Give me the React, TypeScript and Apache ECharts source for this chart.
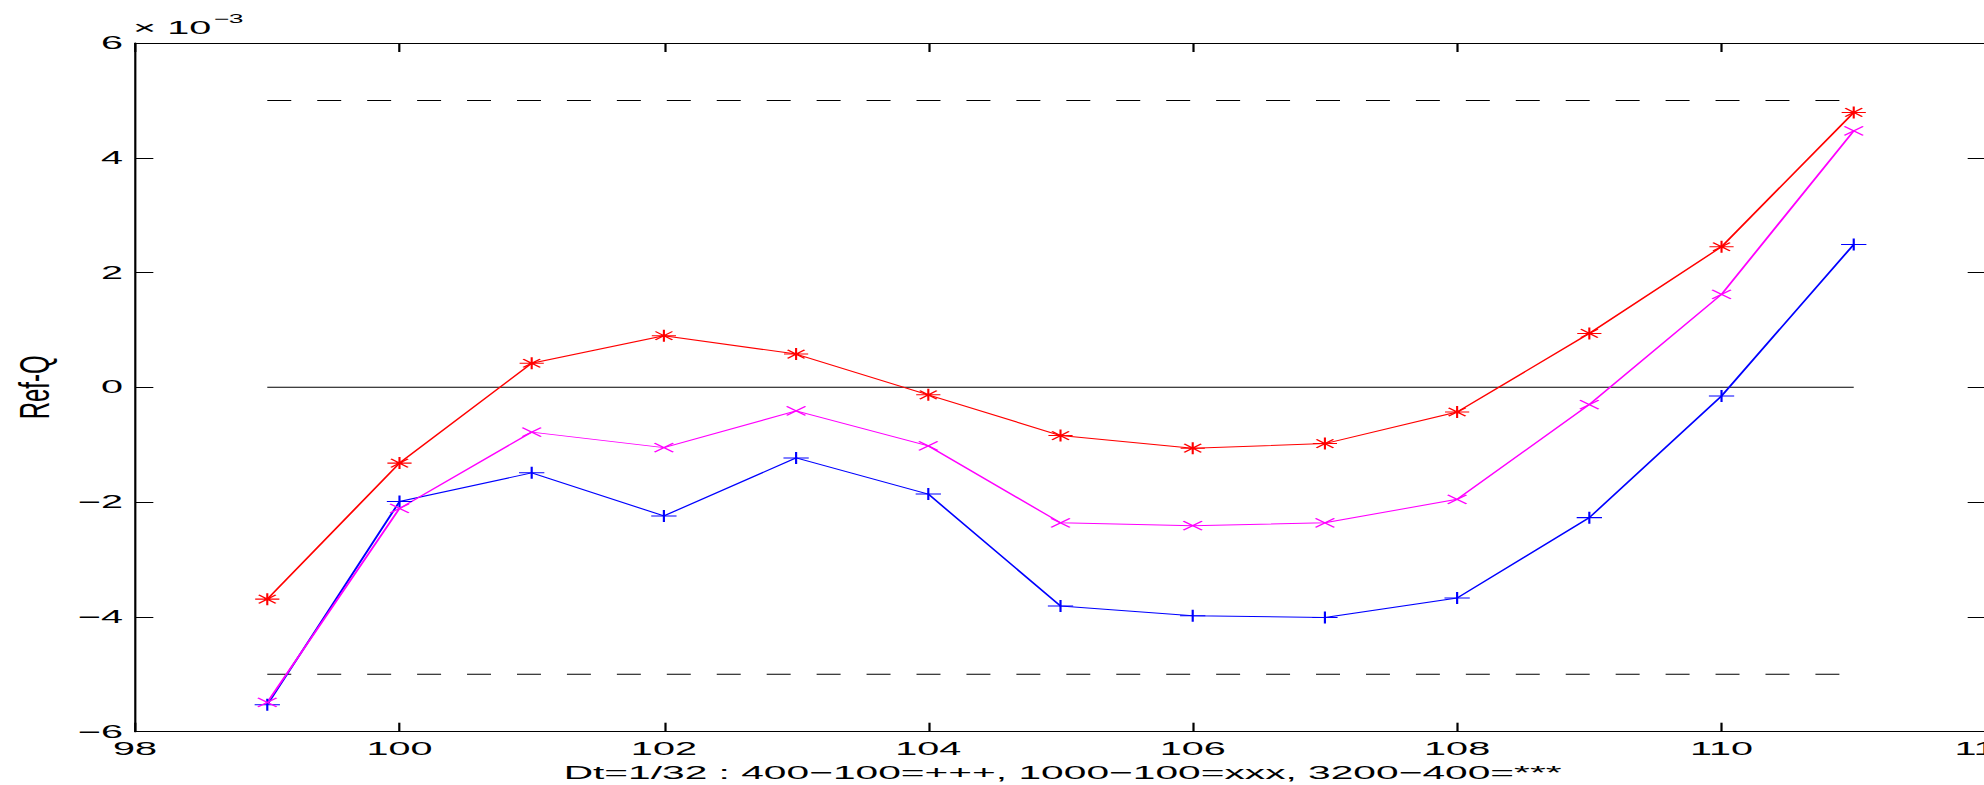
import React, { useEffect, useRef } from "react";
import * as echarts from "echarts";

// Grid steps on the horizontal axis
const STEPS = [99, 100, 101, 102, 103, 104, 105, 106, 107, 108, 109, 110, 111];

// Ref - Q differences, in units of 10^-3
const DIFF_400_100 = [-5.53, -1.99, -1.49, -2.24, -1.23, -1.86, -3.81, -3.98, -4.01, -3.67, -2.27, -0.15, 2.49];
const DIFF_1000_100 = [-5.49, -2.11, -0.78, -1.05, -0.41, -1.02, -2.36, -2.41, -2.36, -1.95, -0.3, 1.62, 4.47];
const DIFF_3200_400 = [-3.69, -1.32, 0.42, 0.9, 0.58, -0.13, -0.84, -1.06, -0.98, -0.43, 0.94, 2.45, 4.79];

// Tolerance band and the zero reference
const BAND_LEVELS = [-5, 5];
const ZERO_LEVEL = 0;

// Axis ranges and tick steps
const X_MIN = 98;
const X_MAX = 112;
const X_STEP = 2;
const Y_MIN = -6;
const Y_MAX = 6;
const Y_STEP = 2;
const Y_EXPONENT = "−3";

const X_TITLE = "Dt=1/32 : 400−100=+++, 1000−100=xxx, 3200−400=***";
const Y_TITLE = "Ref-Q";

// The figure is laid out narrow and stretched sideways, like the exported plot
const STRETCH = 2.2;
const VIEW_W = 1984;
const VIEW_H = 785;
const CHART_W = 910;

const FONT = '"Liberation Sans", Arial, Helvetica, sans-serif';

const PLUS = "path://M0,5L10,5M5,0L5,10";
const CROSS = "path://M0,0L10,10M10,0L0,10";
const STAR = "path://M0,5L10,5M5,0L5,10M1.5,1.5L8.5,8.5M8.5,1.5L1.5,8.5";

const pairs = (ys: number[]) => STEPS.map((x, i) => [x, ys[i]]);
const levelLine = (y: number) => [
  [STEPS[0], y],
  [STEPS[STEPS.length - 1], y],
];

function markerSeries(name: string, ys: number[], color: string, symbol: string, size: number[]) {
  return {
    name,
    type: "line",
    data: pairs(ys),
    symbol,
    symbolSize: size,
    showAllSymbol: true,
    lineStyle: { color, width: 1 },
    itemStyle: { color, borderColor: color, borderWidth: 1 },
    emphasis: { disabled: true },
    silent: true,
    z: 3,
  };
}

export default function App() {
  const ref = useRef<HTMLDivElement>(null);

  useEffect(() => {
    if (!ref.current) return;
    const chart = echarts.init(ref.current, null, { renderer: "svg" });

    const axisLine = { show: true, onZero: false, lineStyle: { color: "#000", width: 1 } };
    const tick = (length: number) => ({
      show: true,
      inside: true,
      length,
      lineStyle: { color: "#000", width: 1 },
    });
    const plotLeft = 61.4;
    const plotRight = 902.7;
    const plotTop = 43;
    const plotBottom = 731.7;

    const refSeries = [
      ...BAND_LEVELS.map((lv) => ({
        type: "line",
        data: levelLine(lv),
        symbol: "none",
        lineStyle: { color: "#000", width: 1, type: [10.9, 11.8] },
        silent: true,
        z: 2,
      })),
      {
        type: "line",
        data: levelLine(ZERO_LEVEL),
        symbol: "none",
        lineStyle: { color: "#000", width: 1 },
        silent: true,
        z: 2,
      },
    ];

    chart.setOption({
      animation: false,
      backgroundColor: "#fff",
      textStyle: { fontFamily: FONT },
      grid: {
        left: plotLeft,
        right: CHART_W - plotRight,
        top: plotTop,
        bottom: VIEW_H - plotBottom,
        containLabel: false,
        outerBoundsMode: "none",
      },
      xAxis: [
        {
          type: "value",
          position: "bottom",
          min: X_MIN,
          max: X_MAX,
          interval: X_STEP,
          axisLine,
          axisTick: tick(9),
          axisLabel: { show: true, color: "#000", fontSize: 18, fontFamily: FONT, margin: 8 },
          splitLine: { show: false },
        },
        {
          type: "value",
          position: "top",
          min: X_MIN,
          max: X_MAX,
          interval: X_STEP,
          axisLine,
          axisTick: tick(9),
          axisLabel: { show: false },
          splitLine: { show: false },
        },
      ],
      yAxis: [
        {
          type: "value",
          position: "left",
          min: Y_MIN,
          max: Y_MAX,
          interval: Y_STEP,
          axisLine,
          axisTick: tick(8.3),
          axisLabel: {
            show: true,
            color: "#000",
            fontSize: 18,
            fontFamily: FONT,
            margin: 5.5,
            formatter: (v: number) => String(v).replace("-", "−"),
          },
          splitLine: { show: false },
        },
        {
          type: "value",
          position: "right",
          min: Y_MIN,
          max: Y_MAX,
          interval: Y_STEP,
          axisLine,
          axisTick: tick(8.3),
          axisLabel: { show: false },
          splitLine: { show: false },
        },
      ],
      graphic: [
        {
          type: "text",
          x: 60.5,
          y: 27.5,
          silent: true,
          style: { text: "× 10", fontSize: 18, fontFamily: FONT, fill: "#000", align: "left", verticalAlign: "middle" },
        },
        {
          type: "text",
          x: 97,
          y: 18.5,
          silent: true,
          style: { text: Y_EXPONENT, fontSize: 12, fontFamily: FONT, fill: "#000", align: "left", verticalAlign: "middle" },
        },
        {
          type: "text",
          x: 15.5,
          y: (plotTop + plotBottom) / 2,
          rotation: Math.PI / 2,
          scaleY: 0.8,
          silent: true,
          style: { text: Y_TITLE, fontSize: 24, fontFamily: FONT, fill: "#000", align: "center", verticalAlign: "middle" },
        },
        {
          type: "text",
          x: 483,
          y: 772.5,
          silent: true,
          style: { text: X_TITLE, fontSize: 18.5, fontFamily: FONT, fill: "#000", align: "center", verticalAlign: "middle" },
        },
      ],
      series: [
        ...refSeries,
        markerSeries("400-100", DIFF_400_100, "#0000ff", PLUS, [11.5, 12]),
        markerSeries("1000-100", DIFF_1000_100, "#ff00ff", CROSS, [8.5, 9]),
        markerSeries("3200-400", DIFF_3200_400, "#ff0000", STAR, [11, 12]),
      ],
    });

    return () => chart.dispose();
  }, []);

  return (
    <div
      style={{
        position: "fixed",
        left: 0,
        top: 0,
        width: VIEW_W,
        height: VIEW_H,
        overflow: "hidden",
        background: "#fff",
      }}
    >
      <div
        ref={ref}
        style={{
          width: CHART_W,
          height: VIEW_H,
          transform: `scaleX(${STRETCH})`,
          transformOrigin: "0 0",
        }}
      />
    </div>
  );
}
